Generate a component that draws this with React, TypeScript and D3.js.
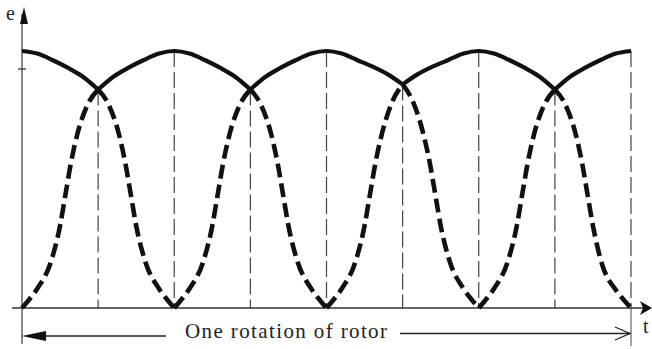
import React from "react";
import * as d3 from "d3";

// Time axis: half-periods of rotor rotation (0..8), value: normalised EMF e (0..1)
const halfPeriodMarks = [1, 2, 3, 4, 5, 6, 7, 8];

// Dashed curve (coil EMF) as [t, e]
const dashedSeries: [number, number][] = [
  [0, 0], [0.1, 0.035], [0.2, 0.075], [0.38, 0.18], [0.5, 0.32], [0.57, 0.44], [0.64, 0.56], [0.73, 0.68], [0.86, 0.79], [1, 0.85],
  [1.14, 0.79], [1.27, 0.68], [1.36, 0.56], [1.43, 0.44], [1.5, 0.32], [1.62, 0.18], [1.8, 0.075], [1.9, 0.035], [2, 0],
  [2.1, 0.035], [2.2, 0.075], [2.38, 0.18], [2.5, 0.32], [2.57, 0.44], [2.64, 0.56], [2.73, 0.68], [2.86, 0.79], [3, 0.85],
  [3.14, 0.79], [3.27, 0.68], [3.36, 0.56], [3.43, 0.44], [3.5, 0.32], [3.62, 0.18], [3.8, 0.075], [3.9, 0.035], [4, 0],
  [4.1, 0.035], [4.2, 0.075], [4.38, 0.18], [4.5, 0.32], [4.57, 0.44], [4.64, 0.56], [4.73, 0.68], [4.86, 0.8], [5, 0.87],
  [5.14, 0.8], [5.27, 0.68], [5.36, 0.56], [5.43, 0.44], [5.5, 0.32], [5.62, 0.18], [5.8, 0.075], [5.9, 0.035], [6, 0],
  [6.1, 0.035], [6.2, 0.075], [6.38, 0.18], [6.5, 0.32], [6.57, 0.44], [6.64, 0.56], [6.73, 0.68], [6.86, 0.79], [7, 0.85],
  [7.14, 0.79], [7.27, 0.68], [7.36, 0.56], [7.43, 0.44], [7.5, 0.32], [7.62, 0.17], [7.8, 0.07], [7.9, 0.033], [8, 0],
];
const dashedBreaks = [0, 1, 2, 3, 4, 5, 6, 7, 8];

// Solid curve (resulting EMF envelope), read as [t, e]
const solidSeries: [number, number][] = [
  [0, 1.0], [0.2, 0.99], [0.4, 0.965], [0.6, 0.935], [0.8, 0.9], [1, 0.85],
  [1.2, 0.9], [1.4, 0.935], [1.6, 0.965], [1.8, 0.99], [2, 1.0], [2.2, 0.99], [2.4, 0.965], [2.6, 0.935], [2.8, 0.9], [3, 0.85],
  [3.2, 0.9], [3.4, 0.935], [3.6, 0.965], [3.8, 0.99], [4, 1.0], [4.2, 0.99], [4.4, 0.965], [4.6, 0.94], [4.8, 0.91], [5, 0.87],
  [5.2, 0.91], [5.4, 0.94], [5.6, 0.965], [5.8, 0.99], [6, 1.0], [6.2, 0.99], [6.4, 0.965], [6.6, 0.935], [6.8, 0.9], [7, 0.85],
  [7.2, 0.9], [7.4, 0.935], [7.6, 0.965], [7.8, 0.99], [8, 1.0],
];
const solidBreaks = [0, 1, 3, 5, 7, 8];

const yLabel = "e";
const xLabel = "t";
const spanLabel = "One rotation of rotor";

function splitAt(series: [number, number][], breaks: number[]) {
  const segs: [number, number][][] = [];
  for (let i = 0; i < breaks.length - 1; i++) {
    segs.push(series.filter(([t]) => t >= breaks[i] && t <= breaks[i + 1]));
  }
  return segs;
}

export default function App() {
  const W = 652, H = 349;
  const x = d3.scaleLinear().domain([0, 8]).range([22, 631]);
  const y = d3.scaleLinear().domain([0, 1]).range([308, 51]);
  const line = d3
    .line<[number, number]>()
    .x((d) => x(d[0]))
    .y((d) => y(d[1]))
    .curve(d3.curveMonotoneX);

  const solidLookup = new Map(solidSeries.map(([t, v]) => [t, v]));
  const dashedSegs = splitAt(dashedSeries, dashedBreaks);
  const solidSegs = splitAt(solidSeries, solidBreaks);
  const font = "'Liberation Serif', 'DejaVu Serif', serif";
  const x0 = x(0), y0 = y(0);
  const xEnd = x(8);

  return (
    <svg
      width={W}
      height={H}
      style={{ position: "absolute", left: 0, top: 0, background: "#fff" }}
    >
      <rect width={W} height={H} fill="#fff" />
      {/* vertical guide lines */}
      {halfPeriodMarks.map((t) => (
        <line
          key={t}
          x1={x(t)}
          x2={x(t)}
          y1={y(solidLookup.get(t) ?? 1)}
          y2={y0}
          stroke="#444"
          strokeWidth={1.2}
          strokeDasharray="16 5"
        />
      ))}
      {/* right end marker line below axis */}
      <line x1={xEnd} x2={xEnd} y1={y0} y2={346} stroke="#666" strokeWidth={1.2} />

      {/* axes */}
      <line x1={x0} x2={x0} y1={14} y2={344} stroke="#555" strokeWidth={1.4} />
      <path d={`M${x0 + 2},7 L${x0 - 2},24 L${x0 + 6},24 Z`} fill="#111" />
      <line x1={x0 - 4} x2={x0 + 4} y1={y(0.93)} y2={y(0.93)} stroke="#444" strokeWidth={1.4} />
      <line x1={12} x2={644} y1={y0} y2={y0} stroke="#333" strokeWidth={1.5} />
      <path d={`M652,${y0} L640,${y0 - 7} L643,${y0} L640,${y0 + 7} Z`} fill="#111" />

      {/* curves */}
      {dashedSegs.map((seg, i) => (
        <path
          key={"d" + i}
          d={line(seg) || ""}
          fill="none"
          stroke="#111"
          strokeWidth={4.6}
          strokeDasharray="14 6"
        />
      ))}
      {solidSegs.map((seg, i) => (
        <path
          key={"s" + i}
          d={line(seg) || ""}
          fill="none"
          stroke="#111"
          strokeWidth={4.2}
          strokeLinejoin="round"
        />
      ))}

      {/* rotation span arrows */}
      <line x1={40} x2={166} y1={336} y2={336} stroke="#222" strokeWidth={1.5} />
      <path d={`M${x0},336 L46,331 L46,341 Z`} fill="#111" />
      <line x1={400} x2={xEnd - 1} y1={333.5} y2={333.5} stroke="#222" strokeWidth={1.5} />
      <path
        d={`M${xEnd - 16},327 L${xEnd - 1},333.5 L${xEnd - 16},340`}
        fill="none"
        stroke="#222"
        strokeWidth={1.3}
      />
      <text x={185} y={338} fontFamily={font} fontSize={21} textLength={202} fill="#222">
        {spanLabel}
      </text>

      {/* axis labels */}
      <text x={6} y={20} fontFamily={font} fontSize={20} fill="#222">
        {yLabel}
      </text>
      <text x={643} y={333} fontFamily={font} fontSize={20} fill="#222">
        {xLabel}
      </text>
    </svg>
  );
}
